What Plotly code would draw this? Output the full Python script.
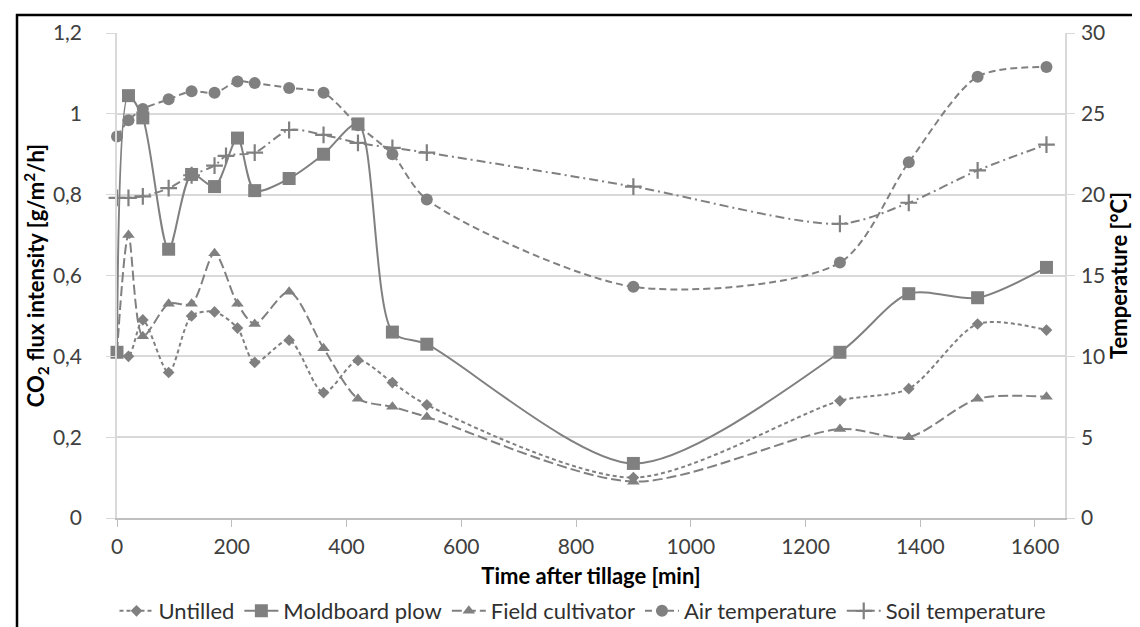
import plotly.graph_objects as go

# ---- data ----
time_min = [0, 20, 45, 90, 130, 170, 210, 240, 300, 360, 420, 480, 540, 900, 1260, 1380, 1500, 1620]
soil_time_min = [0, 20, 45, 90, 130, 170, 190, 240, 300, 360, 420, 480, 540, 900, 1260, 1380, 1500, 1620]

untilled = [0.41, 0.40, 0.49, 0.36, 0.50, 0.51, 0.47, 0.385, 0.44, 0.31, 0.39, 0.335, 0.28, 0.10, 0.29, 0.32, 0.48, 0.465]
moldboard = [0.41, 1.045, 0.99, 0.665, 0.85, 0.82, 0.94, 0.81, 0.84, 0.90, 0.975, 0.46, 0.43, 0.135, 0.41, 0.555, 0.545, 0.62]
cultivator = [0.41, 0.70, 0.45, 0.53, 0.53, 0.655, 0.53, 0.48, 0.56, 0.42, 0.295, 0.275, 0.25, 0.09, 0.22, 0.20, 0.295, 0.30]
air_temp = [23.6, 24.6, 25.3, 25.9, 26.4, 26.3, 27.0, 26.9, 26.6, 26.3, 24.3, 22.5, 19.7, 14.3, 15.8, 22.0, 27.3, 27.9]
soil_temp = [19.8, 19.8, 19.9, 20.4, 21.2, 21.8, 22.4, 22.6, 24.0, 23.7, 23.2, 22.9, 22.6, 20.5, 18.2, 19.5, 21.5, 23.1]

x_ticks = [0, 200, 400, 600, 800, 1000, 1200, 1400, 1600]

GRAY = "#808080"
FONT = "Lato"

fig = go.Figure()

def add(name, x, y, symbol, size, dash, yaxis="y"):
    marker = dict(symbol=symbol, size=size, color=GRAY)
    if symbol.endswith("-thin"):
        marker["line"] = dict(color=GRAY, width=2.2)
    else:
        marker["line"] = dict(width=0)
    fig.add_trace(go.Scatter(
        x=x, y=y, name=name, mode="lines+markers", yaxis=yaxis,
        line=dict(color=GRAY, width=2, dash=dash, shape="spline", smoothing=0.8),
        marker=marker, cliponaxis=False,
    ))

add("Untilled", time_min, untilled, "diamond", 9, "4px,3px")
add("Moldboard plow", time_min, moldboard, "square", 13, "solid")
add("Field cultivator", time_min, cultivator, "triangle-up", 11, "10px,4px")
add("Air temperature", time_min, air_temp, "circle", 12, "7px,4px", "y2")
add("Soil temperature", soil_time_min, soil_temp, "cross-thin", 12, "9px,4px,2px,4px", "y2")

L, R, T, B = 109, 1057, 25, 510
W, H = 1140, 627

def px(xp):
    return (xp - L) / (R - L)

def py(yp):
    return (B - yp) / (B - T)

fig.update_layout(
    width=W, height=H,
    margin=dict(l=L, r=W - R, t=T, b=H - B, autoexpand=False),
    paper_bgcolor="white", plot_bgcolor="white",
    separators=", ",
    font=dict(family=FONT, size=21, color="#404040"),
    showlegend=True,
    legend=dict(orientation="h", x=px(575), xanchor="center", y=py(603), yanchor="middle",
                font=dict(family=FONT, size=22, color="#303030"), itemwidth=34,
                bgcolor="rgba(0,0,0,0)"),
    xaxis=dict(
        range=[0, 1652.3], tickvals=x_ticks, ticks="outside", ticklen=7, tickcolor="#bfbfbf",
        showline=True, linecolor="#bfbfbf", linewidth=1.5, showgrid=False, zeroline=False,
        ticklabelstandoff=2,
        title=dict(text="<b>Time after tillage [min]</b>", standoff=12,
                   font=dict(family=FONT, size=22, color="black")),
    ),
    yaxis=dict(
        range=[0, 1.2], dtick=0.2, ticks="outside", ticklen=9, tickcolor="#d9d9d9",
        showline=True, linecolor="#d9d9d9", linewidth=1.5,
        showgrid=True, gridcolor="#d9d9d9", gridwidth=1.5, zeroline=False,
        ticklabelstandoff=20,
        title=dict(text="<b>CO<sub>2</sub> flux intensity [g/m<sup>2</sup>/h]</b>", standoff=2,
                   font=dict(family=FONT, size=22, color="black")),
    ),
    yaxis2=dict(
        overlaying="y", side="right", range=[0, 30], dtick=5, ticks="outside", ticklen=8,
        tickcolor="#d9d9d9", showline=True, linecolor="#d9d9d9", linewidth=1.5,
        showgrid=False, zeroline=False, ticklabelstandoff=2,
        title=dict(text="<b>Temperature [°C]</b>", standoff=2,
                   font=dict(family=FONT, size=22, color="black")),
    ),
)

# outer frame of the original figure
fig.add_shape(type="line", xref="paper", yref="paper", x0=px(9), x1=px(9), y0=py(6), y1=py(630),
              line=dict(color="black", width=2.5))
fig.add_shape(type="line", xref="paper", yref="paper", x0=px(8), x1=px(1145), y0=py(7), y1=py(7),
              line=dict(color="black", width=2.5))
fig.add_shape(type="line", xref="paper", yref="paper", x0=px(9), x1=px(1145), y0=py(626), y1=py(626),
              line=dict(color="#909090", width=1.5))

fig.write_html("out.html")
